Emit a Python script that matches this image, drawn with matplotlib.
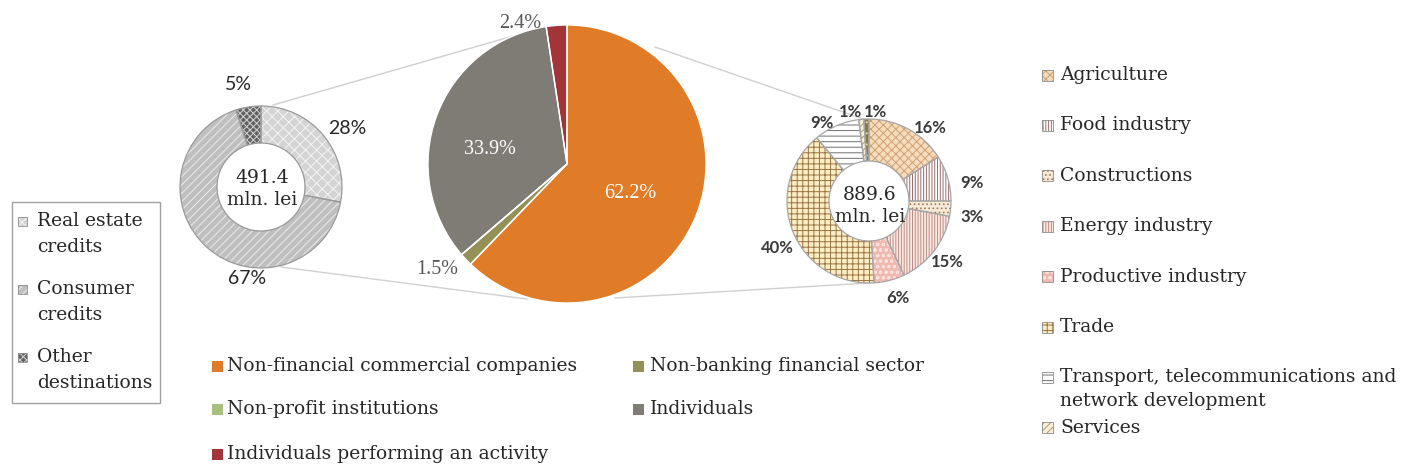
import matplotlib
matplotlib.use('Agg')
import matplotlib.pyplot as plt
from matplotlib.patches import Rectangle

# loans by sector (centre pie), %
sector_names = ['Non-financial commercial companies', 'Non-banking financial sector',
                'Non-profit institutions', 'Individuals', 'Individuals performing an activity']
sector_share = [62.2, 1.5, 0.0, 33.9, 2.4]

# individuals' loans by destination (left donut), %
individual_names = ['Real estate\ncredits', 'Consumer\ncredits', 'Other\ndestinations']
individual_share = [28, 67, 5]
individual_total = 491.4

# companies' loans by branch (right donut), %
branch_names = ['Agriculture', 'Food industry', 'Constructions', 'Energy industry',
                'Productive industry', 'Trade',
                'Transport, telecommunications and\nnetwork development', 'Services', 'Other']
branch_share = [16, 9, 3, 15, 6, 40, 9, 1, 1]
company_total = 889.6

W, H = 1406, 471
fig = plt.figure(figsize=(W / 100, H / 100), dpi=100)
ax = fig.add_axes([0, 0, 1, 1])
plt.rcParams['hatch.linewidth'] = 0.7

serif = 'DejaVu Serif'
times = 'Liberation Serif'
sans = 'Lato'


def pie(values, center, radius, width, faces, hatches, hcolors, outline, lw):
    # y axis runs downward, so counterclock=True looks clockwise
    wedges, _ = ax.pie(values, center=center, radius=radius, startangle=-90,
                       counterclock=True, colors=faces, frame=True,
                       wedgeprops=dict(width=width, linewidth=0))
    for w, h, hc in zip(wedges, hatches, hcolors):
        if h:
            w.set_hatch(h)
            w.set_edgecolor(hc)
    ax.pie(values, center=center, radius=radius, startangle=-90, counterclock=True,
           colors=['none'] * len(values), frame=True,
           wedgeprops=dict(width=width, edgecolor=outline, linewidth=lw))


# connector lines
line_kw = dict(color='#d0d0d0', lw=1, zorder=0)
ax.plot([273, 527], [105, 32], **line_kw)
ax.plot([281, 527], [267, 299], **line_kw)
ax.plot([655, 866], [47, 120], **line_kw)
ax.plot([615, 869], [298, 283], **line_kw)

# centre pie
sector_colors = ['#e07b27', '#949157', '#a8c07e', '#7f7c75', '#a3343a']
pie(sector_share, (567, 164), 139, 139, sector_colors, [None] * 5, [None] * 5, 'white', 1.0)
sector_lbl_pos = [(630, 193), (437, 270), None, (490, 150), (520, 23)]
sector_lbl_col = ['white', '#595959', None, 'white', '#595959']
for v, p, c in zip(sector_share, sector_lbl_pos, sector_lbl_col):
    if p is None:
        continue
    ax.text(p[0], p[1], f'{v:.1f}%', ha='center', va='center', color=c,
            fontsize=14.5, family=times)

# left donut
ind_faces = ['#d4d4d4', '#bfbfbf', '#626262']
ind_hatches = ['xxx', '////', 'xxxxx']
ind_hcolors = ['#f4f4f4', '#ececec', '#d4d4d4']
pie(individual_share, (261, 187), 81, 37, ind_faces, ind_hatches, ind_hcolors, '#9a9a9a', 0.9)
ind_lbl_pos = [(347, 128), (247, 279), (238, 85)]
for v, p in zip(individual_share, ind_lbl_pos):
    ax.text(p[0], p[1], f'{v}%', ha='center', va='center', color='#262626',
            fontsize=14, family=sans)
ax.text(262, 189, f'{individual_total}\nmln. lei', ha='center', va='center',
        fontsize=13.5, family=serif, color='#262626', linespacing=1.25)

# right donut
br_faces = ['#f6dcbc', 'white', '#f8ead8', '#fbe9e4', '#eeb9b0', '#fcedc4', 'white',
            '#f8efdc', '#8d7b3e']
br_hatches = ['xxxx', '||||||', '....', '||||||', 'ooo', '+++', '---', '/////', '...']
br_hcolors = ['#cfa074', '#9c6b6b', '#a07858', '#c08a82', '#fbe3de', '#9a7444', '#707070',
              '#b59a6a', '#e8dca8']
pie(branch_share, (869, 201), 82, 42, br_faces, br_hatches, br_hcolors, '#a6a6a6', 0.9)
br_lbl_pos = [(930, 128), (972, 183), (972, 217), (947, 262), (898, 298), (777, 248),
              (822, 123), (850, 112), (875, 112)]
for v, p in zip(branch_share, br_lbl_pos):
    ax.text(p[0], p[1], f'{v}%', ha='center', va='center', color='#3a3a3a',
            fontsize=12, family=sans, fontweight='bold')
ax.text(870, 206, f'{company_total}\nmln. lei', ha='center', va='center',
        fontsize=13.5, family=serif, color='#262626', linespacing=1.25)

# left legend (boxed)
ax.add_patch(Rectangle((12, 202), 148, 201, fill=False, edgecolor='#a0a0a0', lw=1))
for i, name in enumerate(individual_names):
    y = 221 + i * 68
    ax.add_patch(Rectangle((18, y - 4.5), 9, 9, facecolor=ind_faces[i], hatch=ind_hatches[i],
                           edgecolor=ind_hcolors[i], lw=0))
    ax.add_patch(Rectangle((18, y - 4.5), 9, 9, fill=False, edgecolor='#8a8a8a', lw=0.6))
    for j, part in enumerate(name.split('\n')):
        ax.text(37, y + j * 26, part, ha='left', va='center', fontsize=13.5,
                family=serif, color='#262626')

# right legend
for i, name in enumerate(branch_names[:8]):
    y = 75 + i * 50.4
    ax.add_patch(Rectangle((1042, y - 5.5), 11, 11, facecolor=br_faces[i], hatch=br_hatches[i],
                           edgecolor=br_hcolors[i], lw=0))
    ax.add_patch(Rectangle((1042, y - 5.5), 11, 11, fill=False, edgecolor='#8a8a8a', lw=0.6))
    for j, part in enumerate(name.split('\n')):
        ax.text(1060, y + j * 24, part, ha='left', va='center', fontsize=13.5,
                family=serif, color='#262626')

# bottom legend, filled row by row
leg_cols = [(212, 227), (633, 650)]
leg_rows = [366, 409, 454]
for i, name in enumerate(sector_names):
    mx, tx = leg_cols[i % 2]
    y = leg_rows[i // 2]
    ax.add_patch(Rectangle((mx, y - 5.5), 11, 11, facecolor=sector_colors[i], lw=0))
    ax.text(tx, y, name, ha='left', va='center', fontsize=13.5, family=serif,
            color='#262626')

ax.set_xlim(0, W)
ax.set_ylim(H, 0)
ax.set_aspect('equal')
ax.axis('off')

fig.savefig('out.png', dpi=100)
